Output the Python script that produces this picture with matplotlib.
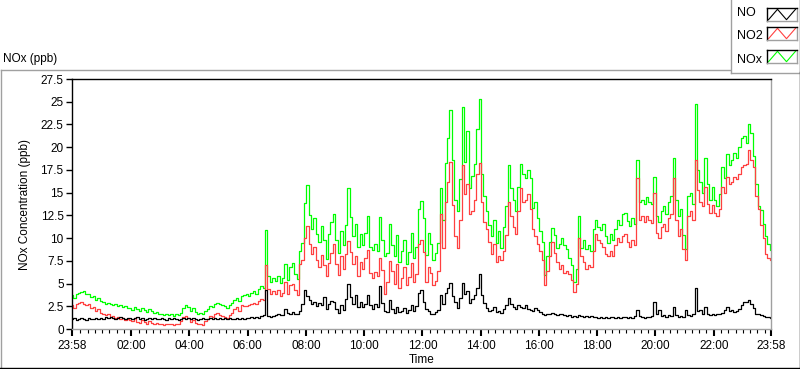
import numpy as np
import matplotlib
matplotlib.use("Agg")
import matplotlib.pyplot as plt
from matplotlib.lines import Line2D

plt.rcParams['font.family'] = ['Liberation Sans', 'DejaVu Sans']

# 5-minute samples starting 23:58, one row per hour
nox = [3.7, 3.4, 3.8, 4.0, 4.1, 4.2, 3.8, 3.9, 3.5, 3.6, 3.2, 3.4,
       3.1, 3.0, 2.8, 2.9, 2.7, 2.6, 2.8, 2.5, 2.6, 2.4, 2.5, 2.3,
       2.3, 2.1, 2.4, 2.2, 2.0, 2.3, 2.1, 1.9, 2.2, 2.0, 1.8, 1.9,
       1.7, 1.6, 1.5, 1.7, 1.5, 1.6, 1.4, 1.6, 1.5, 1.8, 2.3, 2.6,
       2.4, 2.0, 2.3, 1.9, 1.7, 1.8, 1.6, 2.0, 2.2, 2.5, 2.4, 2.8,
       2.9, 2.7, 2.6, 2.5, 2.3, 2.6, 2.9, 3.2, 3.4, 3.1, 3.6, 3.7,
       3.8, 3.6, 4.0, 4.2, 3.9, 4.4, 4.7, 4.5, 10.9, 5.8, 5.2, 5.6,
       5.3, 5.8, 5.1, 5.6, 7.2, 5.4, 6.8, 7.3, 6.0, 5.5, 8.6, 9.5,
       13.9, 15.8, 12.5, 11.0, 12.2, 10.5, 9.6, 11.3, 9.8, 7.7, 10.4, 11.8,
       12.6, 9.8, 8.4, 10.8, 9.2, 11.4, 15.5, 12.3, 10.2, 11.6, 9.0, 10.5,
       9.2, 10.6, 12.4, 9.0, 8.7, 9.4, 8.6, 12.3, 9.8, 8.0, 8.4, 11.6,
       9.2, 8.0, 10.3, 7.4, 8.6, 9.8, 7.2, 8.5, 10.6, 7.8, 9.0, 13.2,
       14.1, 12.2, 8.1, 10.6, 9.3, 7.6, 8.4, 9.5, 15.5, 12.0, 18.3, 21.0,
       24.1, 18.6, 14.2, 13.0, 16.5, 24.4, 18.4, 21.8, 15.5, 16.8, 18.1, 22.0,
       25.3, 17.0, 14.6, 13.0, 11.4, 10.2, 12.0, 9.5, 10.8, 8.9, 11.2, 13.5,
       18.0, 15.5, 14.2, 13.0, 15.6, 18.1, 17.0, 16.6, 17.5, 16.6, 13.3, 14.0,
       12.2, 10.8, 9.6, 5.9, 8.0, 9.6, 11.1, 10.3, 8.9, 9.4, 10.0, 9.2,
       8.8, 7.8, 7.0, 5.2, 6.6, 12.4, 8.9, 9.8, 8.8, 9.2, 8.6, 11.0,
       12.0, 11.2, 10.9, 11.6, 10.2, 9.5, 10.4, 9.8, 11.0, 12.0, 11.4, 12.6,
       12.8, 11.9, 11.3, 12.2, 11.5, 18.6, 14.0, 14.2, 13.8, 14.5, 14.0, 13.8,
       16.7, 12.4, 11.8, 13.0, 13.5, 12.6, 14.0, 14.6, 18.8, 14.2, 12.4, 13.2,
       10.3, 8.8, 14.6, 15.0, 13.8, 24.7, 17.5, 16.2, 15.0, 18.8, 16.0, 14.2,
       15.6, 14.2, 13.5, 14.8, 17.8, 16.6, 19.3, 18.0, 18.6, 19.4, 18.8, 20.0,
       21.0, 21.2, 20.5, 22.6, 21.6, 19.0, 16.0, 13.5, 13.1, 11.6, 10.2, 9.4,
       8.7]

no2 = [2.6, 2.3, 2.7, 2.9, 3.0, 2.8, 2.6, 2.7, 2.3, 2.4, 2.0, 2.2,
       1.8, 1.7, 1.5, 1.6, 1.3, 1.4, 1.2, 1.3, 1.1, 1.2, 1.0, 1.1,
       1.0, 0.9, 1.2, 0.8, 0.7, 1.0, 0.8, 0.6, 0.9, 0.7, 0.5, 0.7,
       0.6, 0.5, 0.4, 0.6, 0.5, 0.6, 0.4, 0.5, 0.6, 0.9, 1.3, 1.4,
       1.2, 0.8, 1.0, 0.7, 0.5, 0.6, 0.4, 0.9, 1.1, 1.4, 1.3, 1.7,
       1.8, 1.5, 1.4, 1.3, 1.2, 1.5, 1.8, 2.2, 2.4, 2.0, 2.6, 2.5,
       2.5, 2.6, 2.8, 2.9, 2.7, 3.1, 3.3, 3.2, 7.0, 4.4, 3.8, 4.2,
       3.9, 4.3, 3.6, 4.0, 5.2, 3.8, 4.8, 5.0, 4.3, 3.7, 7.2, 7.6,
       10.0, 11.3, 9.4, 8.2, 9.0, 7.6, 6.8, 8.1, 7.0, 5.8, 7.3, 8.4,
       9.3, 7.1, 5.9, 8.0, 6.6, 8.3, 9.7, 8.5, 7.2, 8.0, 5.8, 7.4,
       6.6, 7.8, 8.7, 6.2, 5.6, 6.3, 5.8, 7.8, 6.5, 3.9, 5.2, 7.5,
       6.4, 5.0, 7.1, 4.5, 5.6, 6.8, 4.8, 5.7, 7.3, 5.2, 6.1, 9.4,
       9.8, 8.5, 5.2, 6.8, 6.2, 4.8, 5.3, 6.4, 12.6, 8.9, 14.0, 16.2,
       18.4, 13.6, 10.2, 8.9, 12.0, 18.0, 14.8, 16.0, 12.6, 13.0, 14.2, 17.0,
       18.3, 14.0, 11.8, 11.0, 9.6, 8.2, 9.4, 7.4, 8.0, 7.6, 8.6, 10.3,
       14.0, 12.4, 11.2, 10.4, 13.0, 15.5, 14.0, 14.2, 14.8, 13.2, 11.0, 10.2,
       9.4, 8.6, 7.6, 4.8, 6.4, 8.0, 9.6, 8.4, 7.4, 6.6, 7.0, 6.2,
       6.4, 6.0, 5.4, 4.1, 5.0, 10.0, 8.0, 7.4, 6.6, 7.0, 6.8, 8.6,
       10.5, 9.8, 9.5, 9.0, 8.2, 8.0, 8.6, 8.0, 9.2, 10.0, 9.6, 10.2,
       10.5, 9.6, 9.0, 9.8, 9.2, 16.6, 12.0, 12.4, 11.8, 12.4, 12.0, 11.7,
       15.0, 10.6, 10.0, 11.2, 11.6, 10.8, 12.2, 12.6, 16.6, 12.0, 10.2, 11.0,
       8.8, 7.6, 12.4, 13.0, 12.0, 18.6, 15.3, 14.0, 13.5, 15.6, 13.8, 12.8,
       13.6, 12.8, 12.4, 13.2, 15.6, 15.0, 16.7, 16.0, 16.2, 16.7, 16.5, 17.0,
       17.8, 18.0, 18.2, 19.7, 18.6, 17.8, 14.6, 13.2, 11.4, 10.0, 8.3, 7.8,
       7.6]

no = [1.1, 1.2, 1.0, 1.1, 1.2, 1.1, 1.0, 1.2, 1.1, 1.1, 1.2, 1.1,
      1.2, 1.1, 1.3, 1.2, 1.3, 1.2, 1.1, 1.2, 1.3, 1.2, 1.1, 1.2,
      1.2, 1.1, 1.2, 1.3, 1.1, 1.2, 1.0, 1.1, 1.2, 1.1, 1.2, 1.1,
      1.1, 1.2, 1.1, 1.0, 1.2, 1.1, 1.2, 1.1, 1.0, 1.1, 1.2, 1.1,
      1.2, 1.1, 1.2, 1.1, 1.0, 1.1, 1.2, 1.1, 1.1, 1.2, 1.1, 1.2,
      1.1, 1.2, 1.1, 1.2, 1.1, 1.2, 1.1, 1.1, 1.2, 1.1, 1.2, 1.1,
      1.2, 1.2, 1.3, 1.2, 1.3, 1.2, 1.4, 1.5, 4.3, 1.4, 1.3, 1.4,
      1.5, 1.6, 1.5, 1.5, 2.2, 1.8, 1.7, 1.9, 1.6, 1.7, 2.0, 2.8,
      4.3, 3.6, 3.2, 2.8, 3.0, 2.5, 2.9, 2.6, 3.5, 2.2, 2.8, 3.1,
      3.0, 2.2, 1.8, 2.6, 2.1, 3.3, 4.9, 3.5, 2.8, 3.7, 2.4, 3.0,
      2.4, 2.8, 3.7, 2.6, 2.2, 2.7, 2.4, 4.7, 2.9, 2.0, 1.9, 3.2,
      2.2, 1.8, 2.4, 1.9, 2.0, 2.3, 1.8, 2.1, 2.6, 2.0, 2.5, 4.0,
      4.3, 3.0, 2.2, 2.0, 1.7, 1.6, 1.9, 2.1, 3.7, 2.8, 4.0, 4.5,
      5.1, 3.6, 3.0, 2.3, 3.4, 5.1, 3.8, 4.2, 2.9, 3.3, 3.7, 4.5,
      6.1, 3.7, 2.9, 2.3, 2.0, 2.1, 2.4, 1.9, 2.0, 1.8, 2.2, 2.6,
      3.4, 2.7, 2.4, 2.2, 2.6, 2.4, 2.3, 2.6, 2.2, 2.1, 2.0, 2.3,
      2.1, 1.9, 1.7, 1.5, 1.6, 1.7, 1.8, 1.6, 1.5, 1.7, 1.6, 1.5,
      1.4, 1.5, 1.3, 1.4, 1.3, 1.5, 1.4, 1.3, 1.4, 1.3, 1.4, 1.3,
      1.3, 1.2, 1.3, 1.2, 1.3, 1.2, 1.3, 1.3, 1.2, 1.3, 1.2, 1.3,
      1.3, 1.2, 1.3, 1.2, 1.4, 2.1, 1.4, 1.3, 1.2, 1.3, 1.3, 1.4,
      3.0, 1.6, 2.1, 1.4, 1.5, 1.3, 1.5, 1.4, 2.4, 1.5, 1.3, 1.4,
      1.3, 2.1, 1.5, 1.4, 1.6, 4.5, 2.0, 2.1, 1.7, 2.4, 1.6, 1.5,
      1.6, 1.5, 1.7, 1.6, 1.8, 2.1, 2.4, 2.0, 2.1, 1.9, 2.0, 2.2,
      2.6, 3.0, 3.0, 3.15, 2.7, 2.3, 1.7, 1.6, 1.5, 1.4, 1.35, 1.3,
      1.2]

tick_labels = ['23:58', '02:00', '04:00', '06:00', '08:00', '10:00', '12:00',
               '14:00', '16:00', '18:00', '20:00', '22:00', '23:58']
y_ticks = [0, 2.5, 5, 7.5, 10, 12.5, 15, 17.5, 20, 22.5, 25, 27.5]

W, H = 800, 369
hours = np.arange(len(nox)) * 5 / 60.0


def fx(x):
    return x / W


def fy(y):
    return 1 - y / H


fig = plt.figure(figsize=(8, 3.69), dpi=100)
fig.patch.set_facecolor('white')

gray = '#a0a0a0'
# outer panel edges
fig.add_artist(Line2D([fx(0.5), fx(730)], [fy(69.5), fy(69.5)], color=gray, lw=1))
fig.add_artist(Line2D([fx(0.5), fx(0.5)], [fy(69.5), fy(367)], color=gray, lw=1))
fig.add_artist(Line2D([fx(0), fx(800)], [fy(367.5), fy(367.5)], color='black', lw=1))
fig.add_artist(Line2D([fx(799.5), fx(799.5)], [fy(72), fy(368)], color='black', lw=1))
# legend panel
fig.add_artist(Line2D([fx(730.5), fx(730.5)], [fy(0), fy(72.5)], color=gray, lw=1))
fig.add_artist(Line2D([fx(730.5), fx(800)], [fy(72.5), fy(72.5)], color=gray, lw=1))
fig.add_artist(Line2D([fx(799.5), fx(799.5)], [fy(0), fy(72.5)], color='#404040', lw=1))

fig.text(fx(3), fy(59), 'NOx (ppb)', fontsize=8.5, va='center', ha='left')

ax = fig.add_axes([fx(72), fy(329), fx(771) - fx(72), fy(79) - fy(329)])
ax.plot(hours, nox, color='#00ff00', lw=0.9, drawstyle='steps-mid')
ax.plot(hours, no2, color='#ff4040', lw=0.9, drawstyle='steps-mid')
ax.plot(hours, no, color='black', lw=0.9, drawstyle='steps-mid')

ax.set_xlim(0, 24)
ax.set_ylim(0, 27.5)
ax.set_yticks(y_ticks)
ax.set_yticklabels(['0', '2.5', '5', '7.5', '10', '12.5', '15', '17.5',
                    '20', '22.5', '25', '27.5'])
major_x = [0] + [h + 2 / 60 for h in range(2, 24, 2)] + [24]
ax.set_xticks(major_x)
ax.set_xticklabels(tick_labels)
ax.set_xticks([2 / 60 + k * 0.25 for k in range(1, 96) if k % 8 != 0], minor=True)
ax.tick_params(axis='y', direction='out', length=4, width=1, labelsize=8.5, pad=2)
ax.tick_params(axis='x', which='major', direction='out', length=5, width=1.5,
               labelsize=8.5, pad=3)
ax.tick_params(axis='x', which='minor', direction='out', length=3, width=0.8)
ax.spines['left'].set_color('black')
ax.spines['top'].set_color('black')
ax.spines['right'].set_color(gray)
ax.spines['bottom'].set_color(gray)
for s in ax.spines.values():
    s.set_linewidth(1)

ax.set_xlabel('Time', fontsize=8.5)
ax.xaxis.set_label_coords(0.5, -0.1)
ax.set_ylabel('NOx Concentration (ppb)', fontsize=8.5)
ax.yaxis.set_label_coords(-0.058, 0.5)

# legend entries
names = ['NO', 'NO2', 'NOx']
colors = ['black', '#ff4040', '#00ff00']
rows = [(8, 21), (27, 40), (50, 63)]
text_y = [13, 36, 60]
for name, c, (y0, y1), ty in zip(names, colors, rows, text_y):
    fig.text(fx(737), fy(ty), name, fontsize=9, va='center', ha='left')
    sw = fig.add_axes([fx(767), fy(y1), fx(797) - fx(767), fy(y0) - fy(y1)])
    sw.plot([0.05, 0.35, 0.65, 0.95], [0.1, 0.9, 0.1, 0.9], color=c, lw=0.8)
    sw.set_xlim(0, 1)
    sw.set_ylim(0, 1)
    sw.set_xticks([])
    sw.set_yticks([])
    for k, s in sw.spines.items():
        s.set_color('black' if k in ('left', 'top') else gray)
        s.set_linewidth(1)

fig.savefig('out.png', dpi=100)
